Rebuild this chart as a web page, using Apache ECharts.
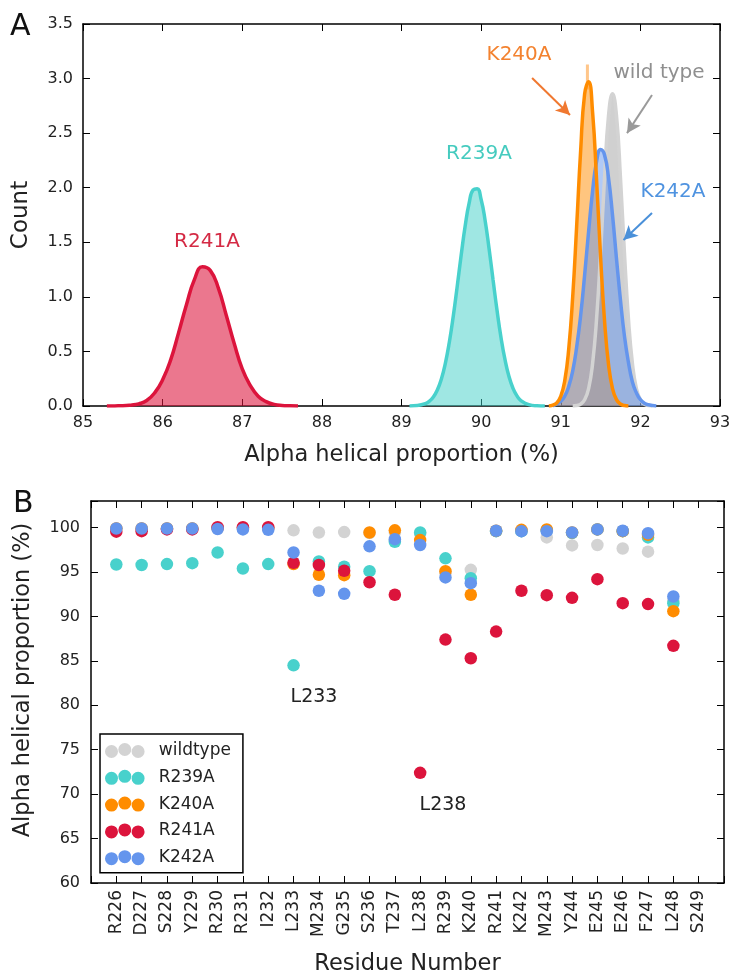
<!DOCTYPE html>
<html>
<head>
<meta charset="utf-8">
<script src="https://cdn.jsdelivr.net/npm/echarts@6/dist/echarts.min.js"></script>
<style>
html,body{margin:0;padding:0;background:#fff;}
#chart{width:735px;height:977px;}
</style>
</head>
<body>
<div id="chart"></div>
<script>
// ---------- Panel A: distributions (x = alpha helical %, y = count) ----------
const r241aCurve = [[85.3,0],[85.4,0.001],[85.5,0.002],[85.6,0.008],[85.7,0.02],[85.8,0.05],[85.9,0.12],[86.0,0.24],[86.1,0.42],[86.2,0.67],[86.3,0.93],[86.4,1.16],[86.5,1.275],[86.6,1.24],[86.7,1.08],[86.8,0.83],[86.9,0.57],[87.0,0.34],[87.1,0.19],[87.2,0.09],[87.3,0.04],[87.4,0.015],[87.5,0.005],[87.6,0.002],[87.7,0]];
const r239aCurve = [[89.1,0.001],[89.2,0.005],[89.3,0.022],[89.35,0.044],[89.4,0.083],[89.45,0.147],[89.5,0.246],[89.55,0.389],[89.6,0.582],[89.65,0.822],[89.7,1.098],[89.75,1.385],[89.8,1.651],[89.85,1.86],[89.9,1.98],[89.95,1.99],[90.0,1.892],[90.05,1.70],[90.1,1.44],[90.15,1.155],[90.2,0.875],[90.25,0.626],[90.3,0.424],[90.35,0.27],[90.4,0.163],[90.45,0.093],[90.5,0.05],[90.6,0.012],[90.7,0.002],[90.8,0]];
const k240aCurve = [[90.85,0],[90.9,0.008],[90.95,0.029],[91.0,0.089],[91.05,0.23],[91.1,0.52],[91.15,1.0],[91.2,1.65],[91.25,2.34],[91.3,2.86],[91.35,2.97],[91.4,2.69],[91.45,2.07],[91.5,1.37],[91.55,0.78],[91.6,0.38],[91.65,0.16],[91.7,0.058],[91.75,0.018],[91.8,0.005],[91.85,0]];
const k240aPeakBin = [[91.335,2.9],[91.335,3.13]];
const k242aCurve = [[90.9,0],[90.95,0.02],[91.0,0.043],[91.05,0.09],[91.1,0.18],[91.15,0.32],[91.2,0.54],[91.25,0.83],[91.3,1.20],[91.35,1.60],[91.4,1.97],[91.45,2.24],[91.5,2.35],[91.55,2.30],[91.6,2.09],[91.65,1.75],[91.7,1.35],[91.75,0.97],[91.8,0.64],[91.85,0.40],[91.9,0.22],[91.95,0.12],[92.0,0.058],[92.05,0.026],[92.1,0.011],[92.2,0]];
const wildCurve = [[91.15,0],[91.2,0.004],[91.25,0.017],[91.3,0.057],[91.35,0.16],[91.4,0.39],[91.45,0.80],[91.5,1.40],[91.55,2.09],[91.6,2.66],[91.65,2.86],[91.7,2.66],[91.75,2.09],[91.8,1.40],[91.85,0.80],[91.9,0.39],[91.95,0.16],[92.0,0.057],[92.05,0.017],[92.1,0.004],[92.15,0]];

// ---------- Panel B: per-residue helical proportion ----------
const residues = ['R226','D227','S228','Y229','R230','R231','I232','L233','M234','G235','S236','T237','L238','R239','K240','R241','K242','M243','Y244','E245','E246','F247','L248','S249'];
const wildtype = [99.9,99.9,99.9,99.9,99.9,99.9,99.9,99.7,99.45,99.5,99.4,99.45,99.3,94.9,95.25,99.6,99.6,98.9,98.0,98.05,97.65,97.3,91.8,null];
const r239a    = [95.85,95.8,95.9,96.0,97.2,95.4,95.9,84.5,96.2,95.6,95.1,98.4,99.45,96.55,94.3,99.6,99.6,99.7,99.4,99.8,99.6,98.9,91.5,null];
const k240a    = [99.9,99.9,99.9,99.9,99.95,99.95,99.95,95.9,94.7,94.65,99.45,99.7,98.6,95.1,92.45,99.65,99.75,99.8,99.45,99.8,99.6,99.2,90.6,null];
const r241a    = [99.55,99.6,99.8,99.8,100.05,100.05,100.05,96.05,95.8,95.15,93.85,92.45,72.4,87.4,85.3,88.3,92.9,92.4,92.1,94.2,91.5,91.4,86.7,null];
const k242a    = [99.9,99.9,99.9,99.9,99.85,99.8,99.75,97.2,92.9,92.55,97.9,98.7,98.05,94.4,93.75,99.65,99.6,99.6,99.45,99.8,99.65,99.37,92.25,null];

const yTicksA = ['0.0','0.5','1.0','1.5','2.0','2.5','3.0','3.5'];

const FONT = 'DejaVu Sans';
const C = {wt:'#d3d3d3', teal:'#48d1cc', orange:'#ff8c00', red:'#dc143c', blue:'#6495ed'};

function toPts(arr){ const out=[]; arr.forEach((v,i)=>{ if(v!=null) out.push([i,v]); }); return out; }

const axLine = {show:true, onZero:false, lineStyle:{color:'#000', width:1.5}};
const axTick = {show:true, inside:true, length:7, lineStyle:{color:'#000', width:1}};
const lbl = {fontSize:16, color:'#222', fontFamily:FONT};
const nameStyle = {fontSize:22.5, color:'#222', fontFamily:FONT};

function fill(name, data, color){ return {name, type:'line', xAxisIndex:0, yAxisIndex:0, data, smooth:0.5, showSymbol:false, silent:true, lineStyle:{width:0}, areaStyle:{color, opacity:1}, z:2}; }
function curve(name, data, color, extra){ return Object.assign({name, type:'line', xAxisIndex:0, yAxisIndex:0, data, smooth:0.5, showSymbol:false, silent:true, lineStyle:{width:3.5, color}, itemStyle:{color}, z:3}, extra||{}); }
function arrow(color, a, b){ return {silent:true, symbol:['none','arrow'], symbolSize:[11,14], label:{show:false}, lineStyle:{color, width:2, type:'solid'}, data:[[{coord:a},{coord:b}]]}; }
function scat(name, arr, color){ return {name, type:'scatter', xAxisIndex:2, yAxisIndex:2, data:toPts(arr), symbolSize:12.5, itemStyle:{color, opacity:1}, z:3}; }

const legendIcon = 'path://M0,9 a6.5,6.5 0 1,0 13,0 a6.5,6.5 0 1,0 -13,0 Z M13.3,7 a6.5,6.5 0 1,0 13,0 a6.5,6.5 0 1,0 -13,0 Z M26.6,9 a6.5,6.5 0 1,0 13,0 a6.5,6.5 0 1,0 -13,0 Z';

const chart = echarts.init(document.getElementById('chart'), null, {renderer:'canvas'});
const option = {
  animation:false,
  backgroundColor:'#fff',
  textStyle:{fontFamily:FONT},
  grid:[
    {left:83, right:15, top:24, height:382},
    {left:91, right:11, top:501, height:382}
  ],
  xAxis:[
    {gridIndex:0, type:'value', min:85, max:93, interval:1, position:'bottom', axisLine:axLine, axisTick:axTick, splitLine:{show:false},
     axisLabel:Object.assign({margin:9}, lbl),
     name:'Alpha helical proportion (%)', nameLocation:'middle', nameGap:38, nameTextStyle:nameStyle},
    {gridIndex:0, type:'value', min:85, max:93, interval:1, position:'top', axisLine:axLine, axisTick:axTick, splitLine:{show:false}, axisLabel:{show:false}},
    {gridIndex:1, type:'value', min:-1, max:24, interval:1, position:'bottom', axisLine:axLine, axisTick:axTick, splitLine:{show:false},
     axisLabel:Object.assign({}, lbl, {margin:7, rotate:90, fontSize:17, formatter:(v)=>residues[Math.round(v)]||''}),
     name:'Residue Number', nameLocation:'middle', nameGap:70, nameTextStyle:nameStyle},
    {gridIndex:1, type:'value', min:-1, max:24, interval:1, position:'top', axisLine:axLine, axisTick:axTick, splitLine:{show:false}, axisLabel:{show:false}}
  ],
  yAxis:[
    {gridIndex:0, type:'value', min:0, max:3.5, interval:0.5, position:'left', axisLine:axLine, axisTick:axTick, splitLine:{show:false},
     axisLabel:Object.assign({margin:10, formatter:(v)=>yTicksA[Math.round(v*2)]||''}, lbl),
     name:'Count', nameLocation:'middle', nameGap:50, nameTextStyle:Object.assign({}, nameStyle, {fontSize:23})},
    {gridIndex:0, type:'value', min:0, max:3.5, interval:0.5, position:'right', axisLine:axLine, axisTick:axTick, splitLine:{show:false}, axisLabel:{show:false}},
    {gridIndex:1, type:'value', min:60, max:103, interval:5, position:'left', axisLine:axLine, axisTick:axTick, splitLine:{show:false},
     axisLabel:Object.assign({margin:11, formatter:(v)=> v>100.5 ? '' : String(Math.round(v))}, lbl),
     name:'Alpha helical proportion (%)', nameLocation:'middle', nameGap:56, nameTextStyle:Object.assign({}, nameStyle, {padding:[0,0,0,24]})},
    {gridIndex:1, type:'value', min:60, max:103, interval:5, position:'right', axisLine:axLine, axisTick:axTick, splitLine:{show:false}, axisLabel:{show:false}}
  ],
  legend:{
    data:['wildtype','R239A','K240A','R241A','K242A'],
    orient:'vertical', left:100, top:734,
    padding:[6.5,12,5,5], itemGap:6.8, itemWidth:40, itemHeight:15,
    icon:legendIcon, selectedMode:false,
    borderColor:'#000', borderWidth:1.5, backgroundColor:'#fff',
    textStyle:{fontSize:17, color:'#222', lineHeight:20, fontFamily:FONT, padding:[0,0,0,9]}
  },
  series:[
    fill('fill R241A', r241aCurve, 'rgba(220,20,60,0.58)'),
    fill('fill R239A', r239aCurve, 'rgba(64,208,200,0.5)'),
    fill('fill wild type', wildCurve, 'rgba(150,150,150,0.45)'),
    fill('fill K240A', k240aCurve, 'rgba(255,140,0,0.5)'),
    fill('fill K242A', k242aCurve, 'rgba(100,149,237,0.5)'),
    curve('curve R241A', r241aCurve, C.red),
    curve('curve R239A', r239aCurve, C.teal),
    curve('curve wild type', wildCurve, C.wt, {markLine:arrow('#9a9a9a',[92.146,2.85],[91.832,2.50])}),
    curve('curve K242A', k242aCurve, C.blue, {markLine:arrow('#4a90d9',[92.146,1.768],[91.788,1.521])}),
    curve('curve K240A', k240aCurve, C.orange, {markLine:arrow('#f07830',[90.64,3.005],[91.116,2.666])}),
    {name:'K240A peak bin', type:'line', xAxisIndex:0, yAxisIndex:0, data:k240aPeakBin, showSymbol:false, silent:true, lineStyle:{width:3, color:'rgba(255,160,60,0.6)'}, z:2},
    scat('wildtype', wildtype, C.wt),
    scat('R239A', r239a, C.teal),
    scat('K240A', k240a, C.orange),
    scat('R241A', r241a, C.red),
    scat('K242A', k242a, C.blue)
  ],
  graphic:[
    {type:'text', left:10, top:12, style:{text:'A', font:'30px "DejaVu Sans"', fill:'#111'}},
    {type:'text', left:13, top:489, style:{text:'B', font:'30px "DejaVu Sans"', fill:'#111'}},
    {type:'text', style:{text:'R241A', x:207, y:242, font:'20px "DejaVu Sans"', fill:'#d42a44', align:'center', verticalAlign:'middle', textAlign:'center', textVerticalAlign:'middle'}},
    {type:'text', style:{text:'R239A', x:479, y:154, font:'20px "DejaVu Sans"', fill:'#45cbbf', align:'center', verticalAlign:'middle', textAlign:'center', textVerticalAlign:'middle'}},
    {type:'text', style:{text:'K240A', x:519, y:55, font:'20px "DejaVu Sans"', fill:'#f3822f', align:'center', verticalAlign:'middle', textAlign:'center', textVerticalAlign:'middle'}},
    {type:'text', style:{text:'wild type', x:659, y:73, font:'20px "DejaVu Sans"', fill:'#8f8f8f', align:'center', verticalAlign:'middle', textAlign:'center', textVerticalAlign:'middle'}},
    {type:'text', style:{text:'K242A', x:673, y:192, font:'20px "DejaVu Sans"', fill:'#4f93e0', align:'center', verticalAlign:'middle', textAlign:'center', textVerticalAlign:'middle'}},
    {type:'text', style:{text:'L233', x:314, y:697, font:'19px "DejaVu Sans"', fill:'#222', align:'center', verticalAlign:'middle', textAlign:'center', textVerticalAlign:'middle'}},
    {type:'text', style:{text:'L238', x:443, y:805, font:'19px "DejaVu Sans"', fill:'#222', align:'center', verticalAlign:'middle', textAlign:'center', textVerticalAlign:'middle'}}
  ]
};
chart.setOption(option);
</script>
</body>
</html>
